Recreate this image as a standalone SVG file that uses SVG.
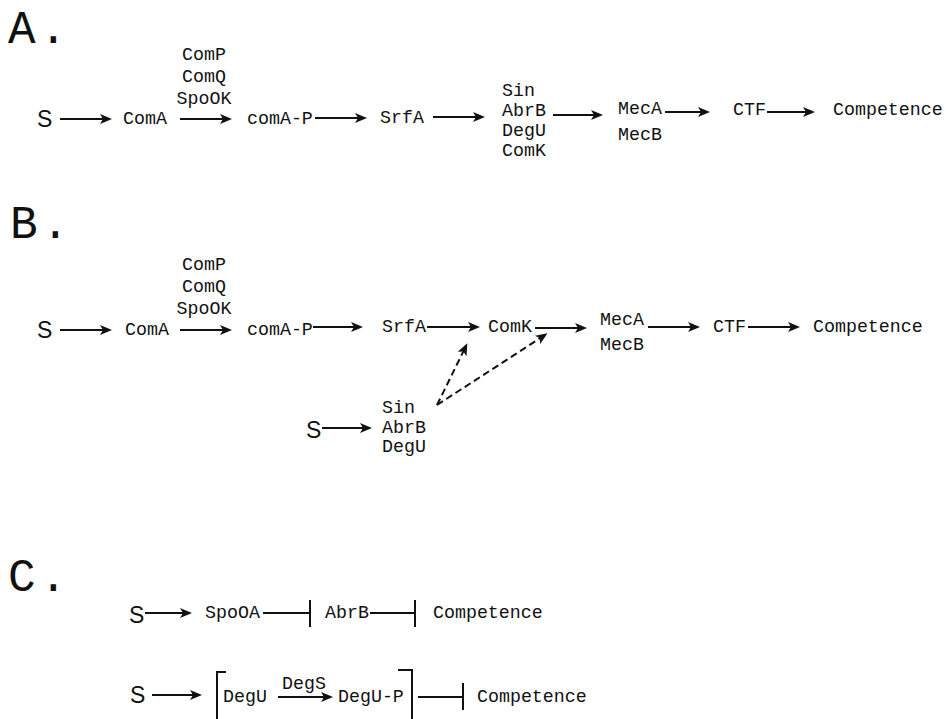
<svg xmlns="http://www.w3.org/2000/svg" width="946" height="719" viewBox="0 0 946 719">
<style>
.t{font-family:"Courier New","Liberation Mono",monospace;font-size:18.3px;fill:#111}
.s{font-family:"Liberation Sans",Arial,sans-serif;font-size:23px;fill:#111}
.big{font-family:"Courier New","Liberation Mono",monospace;font-size:46px;fill:#111;letter-spacing:4px}
.a{stroke:#111;stroke-width:2;fill:none;marker-end:url(#ah)}
.d{stroke:#111;stroke-width:2;fill:none;stroke-dasharray:7 4;marker-end:url(#ah)}
.i{stroke:#111;stroke-width:2;fill:none}
.m{text-anchor:middle}
</style>
<defs>
<marker id="ah" viewBox="0 0 12 10" refX="9" refY="5" markerWidth="12" markerHeight="10" markerUnits="userSpaceOnUse" orient="auto">
<path d="M0,0 L12,5 L0,10 L3,5 Z" fill="#111"/>
</marker>
</defs>
<rect width="946" height="719" fill="#fff"/>

<g id="labels">
<text class="big" x="8" y="43">A.</text>
<text class="big" x="10" y="238">B.</text>
<text class="big" x="8" y="591">C.</text>
</g>

<!-- Panel A nodes -->
<g id="A_S"><text class="s" x="37" y="127">S</text></g>
<g id="A_ComA"><text class="t" x="123" y="124">ComA</text></g>
<g id="A_kinases"><text class="t m" x="204" y="60">ComP</text><text class="t m" x="204" y="82">ComQ</text><text class="t m" x="204" y="104">SpoOK</text></g>
<g id="A_ComAP"><text class="t" x="247" y="124">comA-P</text></g>
<g id="A_SrfA"><text class="t" x="380" y="123">SrfA</text></g>
<g id="A_reg"><text class="t" x="502" y="96">Sin</text><text class="t" x="502" y="116">AbrB</text><text class="t" x="502" y="136">DegU</text><text class="t" x="502" y="156">ComK</text></g>
<g id="A_Mec"><text class="t" x="618" y="114">MecA</text><text class="t" x="618" y="140">MecB</text></g>
<g id="A_CTF"><text class="t" x="733" y="115">CTF</text></g>
<g id="A_Comp"><text class="t" x="833" y="115">Competence</text></g>

<!-- Panel B nodes -->
<g id="B_S"><text class="s" x="37" y="338">S</text></g>
<g id="B_ComA"><text class="t" x="125" y="335">ComA</text></g>
<g id="B_kinases"><text class="t m" x="204" y="270">ComP</text><text class="t m" x="204" y="292">ComQ</text><text class="t m" x="204" y="314">SpoOK</text></g>
<g id="B_ComAP"><text class="t" x="247" y="335">comA-P</text></g>
<g id="B_SrfA"><text class="t" x="382" y="332">SrfA</text></g>
<g id="B_ComK"><text class="t" x="488" y="332">ComK</text></g>
<g id="B_Mec"><text class="t" x="600" y="325">MecA</text><text class="t" x="600" y="350">MecB</text></g>
<g id="B_CTF"><text class="t" x="713" y="332">CTF</text></g>
<g id="B_Comp"><text class="t" x="813" y="332">Competence</text></g>
<g id="B_S2"><text class="s" x="306" y="438">S</text></g>
<g id="B_reg"><text class="t" x="382" y="413">Sin</text><text class="t" x="382" y="433">AbrB</text><text class="t" x="382" y="452">DegU</text></g>

<!-- Panel C nodes -->
<g id="C1_S"><text class="s" x="129" y="623">S</text></g>
<g id="C1_SpoOA"><text class="t" x="205" y="618">SpoOA</text></g>
<g id="C1_AbrB"><text class="t" x="325" y="618">AbrB</text></g>
<g id="C1_Comp"><text class="t" x="433" y="618">Competence</text></g>
<g id="C2_S"><text class="s" x="130" y="703">S</text></g>
<g id="C2_complex">
<path class="i" d="M226,672 H217 V719"/>
<path class="i" d="M398,670 H412 V719"/>
<text class="t" x="223" y="702">DegU</text>
<text class="t" x="282" y="689">DegS</text>
<text class="t" x="338" y="702">DegU-P</text>
</g>
<g id="C2_Comp"><text class="t" x="477" y="702">Competence</text></g>

<g id="connectors">
<!-- A -->
<line class="a" x1="60" y1="119" x2="109" y2="119"/>
<line class="a" x1="180" y1="119" x2="229" y2="119"/>
<line class="a" x1="315" y1="118" x2="364" y2="118"/>
<line class="a" x1="433" y1="117" x2="482" y2="117"/>
<line class="a" x1="553" y1="115" x2="600" y2="115"/>
<line class="a" x1="665" y1="112" x2="707" y2="112"/>
<line class="a" x1="767" y1="112" x2="812" y2="112"/>
<!-- B -->
<line class="a" x1="60" y1="330" x2="109" y2="330"/>
<line class="a" x1="180" y1="330" x2="229" y2="330"/>
<line class="a" x1="313" y1="327" x2="360" y2="327"/>
<line class="a" x1="427" y1="327" x2="477" y2="327"/>
<line class="a" x1="535" y1="328" x2="584" y2="328"/>
<line class="a" x1="648" y1="327" x2="697" y2="327"/>
<line class="a" x1="748" y1="327" x2="797" y2="327"/>
<line class="a" x1="322" y1="428" x2="369" y2="428"/>
<line class="d" x1="437" y1="405" x2="466" y2="346"/>
<line class="d" x1="437" y1="405" x2="545" y2="335"/>
<!-- C1 -->
<line class="a" x1="145" y1="613" x2="189" y2="613"/>
<path class="i" d="M263,613 H310 M310,600 V627"/>
<path class="i" d="M370,613 H415 M415,600 V627"/>
<!-- C2 -->
<line class="a" x1="152" y1="695" x2="199" y2="695"/>
<line class="a" x1="278" y1="697" x2="330" y2="697"/>
<path class="i" d="M418,697 H463 M463,683 V710"/>
</g>
</svg>
